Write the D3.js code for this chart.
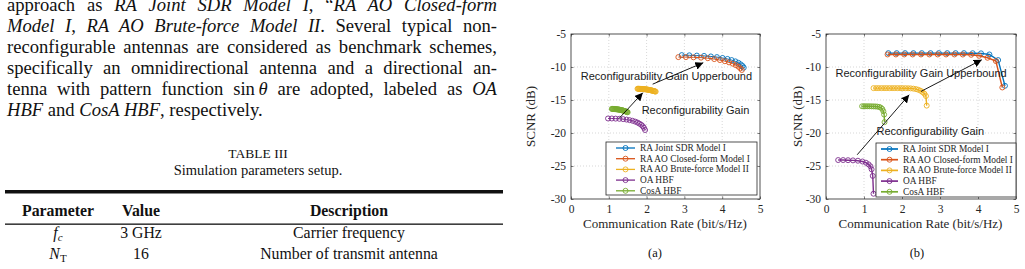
<!DOCTYPE html>
<html>
<head>
<meta charset="utf-8">
<script src="https://cdn.jsdelivr.net/npm/d3@7"></script>
<style>
body { margin: 0; background: #fff; }
svg { display: block; }
</style>
</head>
<body>
<svg id="page" width="1025" height="269"></svg>
<script>
// ---------------- data ----------------
const seriesNames = ["RA Joint SDR Model I", "RA AO Closed-form Model I", "RA AO Brute-force Model II", "OA HBF", "CosA HBF"];
const seriesColors = ["#0072BD", "#D95319", "#EDB120", "#7E2F8E", "#77AC30"];
const xTicks = [0, 1, 2, 3, 4, 5];
const yTicks = [-5, -10, -15, -20, -25, -30];

// panel (a)
const aJointX = [2.93, 3.13, 3.33, 3.52, 3.70, 3.86, 4.01, 4.14, 4.25, 4.35, 4.43, 4.49, 4.54, 4.57];
const aJointY = [-8.2, -8.23, -8.27, -8.32, -8.4, -8.5, -8.63, -8.78, -8.95, -9.15, -9.37, -9.6, -9.85, -10.1];
const aClosedX = [2.84, 3.04, 3.24, 3.44, 3.62, 3.79, 3.94, 4.07, 4.18, 4.28, 4.36, 4.43, 4.48, 4.52];
const aClosedY = [-8.5, -8.5, -8.53, -8.58, -8.67, -8.8, -8.95, -9.12, -9.3, -9.5, -9.72, -9.95, -10.2, -10.45];
const aBruteX = [1.76, 1.775, 1.79, 1.805, 1.82, 1.835, 1.85, 1.865, 1.88, 1.895, 1.91, 1.925, 1.94, 1.955, 1.97, 1.985, 2.00,
                 2.015, 2.03, 2.045, 2.06, 2.075, 2.09, 2.105, 2.12, 2.135, 2.15, 2.165, 2.18, 2.195, 2.21, 2.225, 2.24];
const aBruteY = [-13.30, -13.30, -13.30, -13.31, -13.31, -13.32, -13.32, -13.33, -13.33, -13.34, -13.35, -13.36, -13.36, -13.37, -13.38, -13.39, -13.40,
                 -13.42, -13.43, -13.45, -13.46, -13.48, -13.50, -13.52, -13.54, -13.56, -13.58, -13.60, -13.63, -13.65, -13.68, -13.70, -13.73];
const aOaX = [0.98, 1.08, 1.18, 1.28, 1.38, 1.47, 1.55, 1.63, 1.70, 1.76, 1.81, 1.86, 1.90, 1.93, 1.96];
const aOaY = [-17.8, -17.8, -17.82, -17.85, -17.9, -17.97, -18.05, -18.15, -18.28, -18.42, -18.58, -18.76, -18.98, -19.22, -19.55];
const aCosX = [1.08, 1.095, 1.11, 1.125, 1.14, 1.155, 1.17, 1.185, 1.20, 1.215, 1.23, 1.245, 1.26, 1.275, 1.29,
               1.305, 1.32, 1.335, 1.35, 1.365, 1.38, 1.395, 1.41, 1.425, 1.44, 1.455, 1.47, 1.485, 1.50];
const aCosY = [-16.35, -16.35, -16.36, -16.36, -16.37, -16.37, -16.38, -16.39, -16.40, -16.41, -16.42, -16.43, -16.45, -16.46, -16.48,
               -16.50, -16.52, -16.54, -16.56, -16.58, -16.60, -16.63, -16.66, -16.69, -16.72, -16.75, -16.79, -16.82, -16.86];

// panel (b)
const bJointX = [1.64, 1.86, 2.08, 2.30, 2.52, 2.75, 2.97, 3.19, 3.41, 3.63, 3.86, 4.08, 4.30, 4.53, 4.71];
const bJointY = [-7.9, -7.9, -7.9, -7.9, -7.9, -7.9, -7.9, -7.9, -7.9, -7.9, -7.91, -7.93, -8.1, -8.95, -12.85];
const bClosedX = [1.62, 1.84, 2.06, 2.28, 2.50, 2.72, 2.94, 3.16, 3.38, 3.60, 3.82, 4.03, 4.25, 4.47, 4.64];
const bClosedY = [-8.1, -8.1, -8.1, -8.1, -8.1, -8.1, -8.1, -8.1, -8.1, -8.11, -8.15, -8.3, -8.6, -9.1, -13.1];
const bBruteX = [1.25, 1.32, 1.39, 1.46, 1.53, 1.60, 1.67, 1.74, 1.81, 1.88, 1.95, 2.02, 2.09, 2.16, 2.23, 2.30, 2.37, 2.43, 2.49, 2.54, 2.59, 2.63, 2.65];
const bBruteY = [-13.2, -13.2, -13.2, -13.2, -13.2, -13.2, -13.2, -13.2, -13.2, -13.2, -13.2, -13.21, -13.21, -13.22, -13.24, -13.28, -13.35, -13.45, -13.6, -13.8, -14.05, -14.4, -15.85];
const bOaX = [0.32, 0.45, 0.58, 0.71, 0.84, 0.96, 1.05, 1.12, 1.17, 1.20, 1.23, 1.25];
const bOaY = [-24.1, -24.1, -24.12, -24.15, -24.2, -24.32, -24.5, -24.75, -25.05, -25.5, -26.5, -29.2];
const bCosX = [0.95, 1.00, 1.05, 1.10, 1.15, 1.20, 1.25, 1.30, 1.35, 1.40, 1.44, 1.48, 1.51, 1.53, 1.54];
const bCosY = [-15.95, -15.95, -15.95, -15.95, -15.95, -15.96, -15.97, -15.98, -16.0, -16.05, -16.15, -16.35, -16.7, -17.2, -18.35];

// text of the page
const bodyLines = [
  [["approach as ", 0], ["RA Joint SDR Model I", 1], [", \u201C", 0], ["RA AO Closed-form", 1]],
  [["Model I", 1], [", ", 0], ["RA AO Brute-force Model II", 1], [". Several typical non-", 0]],
  [["reconfigurable antennas are considered as benchmark schemes,", 0]],
  [["specifically an omnidirectional antenna and a directional an-", 0]],
  [["tenna with pattern function sin\u2009", 0], ["\u03B8", 1], [" are adopted, labeled as ", 0], ["OA", 1]],
  [["HBF", 1], [" and ", 0], ["CosA HBF", 1], [", respectively.", 0]]
];
const tableHeader = ["Parameter", "Value", "Description"];
const tableValues = ["3 GHz", "16"];
const tableDescriptions = ["Carrier frequency", "Number of transmit antenna"];

const svg = d3.select("#page");
svg.append("rect").attr("width", 1025).attr("height", 269).attr("fill", "#fff");

const serif = "'Liberation Serif', 'Times New Roman', serif";
const sans = "'Liberation Sans', Arial, sans-serif";

// ---------------- left column text ----------------
const body = svg.append("g").attr("font-family", serif).attr("font-size", 18.6).attr("fill", "#111");
bodyLines.forEach(function(segs, i) {
  const t = body.append("text").attr("x", 7).attr("y", 10.5 + i * 21.1);
  segs.forEach(function(s) {
    t.append("tspan").attr("font-style", s[1] ? "italic" : "normal").text(s[0]);
  });
  if (i < bodyLines.length - 1) {
    const natural = t.node().getComputedTextLength();
    const spaces = (t.text().match(/ /g) || []).length;
    t.style("word-spacing", ((497 - 7 - natural) / spaces) + "px");
  }
});

// table caption
svg.append("text").attr("x", 258).attr("y", 158).attr("text-anchor", "middle")
  .attr("font-family", serif).attr("font-size", 13.5).attr("fill", "#111")
  .text("TABLE III");
svg.append("text").attr("x", 258).attr("y", 175).attr("text-anchor", "middle")
  .attr("font-family", serif).attr("font-size", 14.5).attr("fill", "#111")
  .text("Simulation parameters setup.");

// table
const colCenters = [58, 141, 349];
svg.append("rect").attr("x", 5).attr("y", 190).attr("width", 498).attr("height", 3.5).attr("fill", "#111");
svg.append("rect").attr("x", 5).attr("y", 223.5).attr("width", 498).attr("height", 1.3).attr("fill", "#111");
tableHeader.forEach(function(h, i) {
  svg.append("text").attr("x", colCenters[i]).attr("y", 216).attr("text-anchor", "middle")
    .attr("font-family", serif).attr("font-size", 15.8).attr("font-weight", "bold").attr("fill", "#111")
    .text(h);
});
const rowY = [238, 259];
// parameter symbols
const p1 = svg.append("text").attr("x", 58).attr("y", rowY[0]).attr("text-anchor", "middle")
  .attr("font-family", serif).attr("font-size", 15.8).attr("fill", "#111");
p1.append("tspan").attr("font-style", "italic").text("f");
p1.append("tspan").attr("font-style", "italic").attr("font-size", 11).attr("dy", 3).text("c");
const p2 = svg.append("text").attr("x", 58).attr("y", rowY[1]).attr("text-anchor", "middle")
  .attr("font-family", serif).attr("font-size", 15.8).attr("fill", "#111");
p2.append("tspan").attr("font-style", "italic").text("N");
p2.append("tspan").attr("font-size", 11).attr("dy", 3).text("T");
tableValues.forEach(function(v, i) {
  svg.append("text").attr("x", colCenters[1]).attr("y", rowY[i]).attr("text-anchor", "middle")
    .attr("font-family", serif).attr("font-size", 15.8).attr("fill", "#111").text(v);
  svg.append("text").attr("x", colCenters[2]).attr("y", rowY[i]).attr("text-anchor", "middle")
    .attr("font-family", serif).attr("font-size", 15.8).attr("fill", "#111").text(tableDescriptions[i]);
});

// ---------------- charts ----------------
svg.append("defs").append("marker")
  .attr("id", "head").attr("viewBox", "0 0 10 10").attr("refX", 10).attr("refY", 5)
  .attr("markerWidth", 8).attr("markerHeight", 8).attr("markerUnits", "userSpaceOnUse")
  .attr("orient", "auto")
  .append("path").attr("d", "M0,0L10,5L0,10Z").attr("fill", "#000");

function zip(xs, ys) { return xs.map(function(x, i) { return { x: x, y: ys[i] }; }); }

function drawPanel(p) {
  const x = d3.scaleLinear().domain([0, 5]).range([p.left, p.right]);
  const y = d3.scaleLinear().domain([-30, -5]).range([p.bottom, p.top]);
  const g = svg.append("g");

  // grid
  g.append("g").selectAll("line").data(xTicks.slice(1, -1)).join("line")
    .attr("x1", function(d) { return x(d); }).attr("x2", function(d) { return x(d); })
    .attr("y1", p.top).attr("y2", p.bottom)
    .attr("stroke", "#bdbdbd").attr("stroke-width", 0.6).attr("stroke-dasharray", "1,2");
  g.append("g").selectAll("line").data(yTicks.slice(1, -1)).join("line")
    .attr("y1", function(d) { return y(d); }).attr("y2", function(d) { return y(d); })
    .attr("x1", p.left).attr("x2", p.right)
    .attr("stroke", "#bdbdbd").attr("stroke-width", 0.6).attr("stroke-dasharray", "1,2");

  // axes (ticks inward, box)
  const xAxis = d3.axisBottom(x).tickValues(xTicks).tickSize(-2.5).tickPadding(6).tickFormat(d3.format("d"));
  const yAxis = d3.axisLeft(y).tickValues(yTicks).tickSize(-2.5).tickPadding(5).tickFormat(function(d) { return "-" + Math.abs(d); });
  [g.append("g").attr("transform", "translate(0," + p.bottom + ")").call(xAxis),
   g.append("g").attr("transform", "translate(" + p.left + ",0)").call(yAxis)].forEach(function(ax) {
    ax.select(".domain").remove();
    ax.selectAll("line").attr("stroke", "#262626").attr("stroke-width", 0.6);
    ax.selectAll("text").attr("font-family", serif).attr("font-size", 11.5).attr("fill", "#262626");
  });
  g.append("g").attr("transform", "translate(0," + p.top + ")")
    .call(d3.axisTop(x).tickValues(xTicks).tickSize(-2.5).tickFormat(""))
    .call(function(a) { a.select(".domain").remove(); a.selectAll("line").attr("stroke", "#262626").attr("stroke-width", 0.6); });
  g.append("g").attr("transform", "translate(" + p.right + ",0)")
    .call(d3.axisRight(y).tickValues(yTicks).tickSize(-2.5).tickFormat(""))
    .call(function(a) { a.select(".domain").remove(); a.selectAll("line").attr("stroke", "#262626").attr("stroke-width", 0.6); });
  g.append("rect").attr("x", p.left).attr("y", p.top)
    .attr("width", p.right - p.left).attr("height", p.bottom - p.top)
    .attr("fill", "none").attr("stroke", "#262626").attr("stroke-width", 0.8);

  // series
  const line = d3.line().x(function(d) { return x(d.x); }).y(function(d) { return y(d.y); });
  p.series.forEach(function(s, i) {
    const pts = zip(s[0], s[1]);
    g.append("path").datum(pts).attr("d", line).attr("fill", "none")
      .attr("stroke", seriesColors[i]).attr("stroke-width", p.lineWidth);
    g.append("g").selectAll("circle").data(pts).join("circle")
      .attr("cx", function(d) { return x(d.x); }).attr("cy", function(d) { return y(d.y); })
      .attr("r", 2.5).attr("fill", "none").attr("stroke", seriesColors[i]).attr("stroke-width", 0.9);
  });

  // annotations
  p.arrows.forEach(function(a) {
    g.append("line").attr("x1", x(a[0])).attr("y1", y(a[1])).attr("x2", x(a[2])).attr("y2", y(a[3]))
      .attr("stroke", "#000").attr("stroke-width", 0.9).attr("marker-end", "url(#head)");
  });
  p.labels.forEach(function(l) {
    g.append("text").attr("x", x(l[0])).attr("y", y(l[1]))
      .attr("font-family", sans).attr("font-size", 11).attr("fill", "#1a1a1a").text(l[2]);
  });

  // legend
  const lg = g.append("g").attr("transform", "translate(" + p.legend[0] + "," + p.legend[1] + ")");
  lg.append("rect").attr("width", p.legend[2]).attr("height", p.legend[3])
    .attr("fill", "#fff").attr("stroke", "#262626").attr("stroke-width", 0.8);
  seriesNames.forEach(function(n, i) {
    const ry = 6 + i * 10.7;
    lg.append("line").attr("x1", p.legendLine[0]).attr("x2", p.legendLine[1]).attr("y1", ry).attr("y2", ry)
      .attr("stroke", seriesColors[i]).attr("stroke-width", p.lineWidth + 0.3);
    lg.append("circle").attr("cx", (p.legendLine[0] + p.legendLine[1]) / 2).attr("cy", ry).attr("r", 2.5)
      .attr("fill", "none").attr("stroke", seriesColors[i]).attr("stroke-width", 0.9);
    lg.append("text").attr("x", p.legendLine[1] + 5).attr("y", ry + 3)
      .attr("font-family", serif).attr("font-size", 9.4).attr("fill", "#262626").text(n);
  });

  // axis titles
  g.append("text").attr("x", (p.left + p.right) / 2 - 0.5).attr("y", 228).attr("text-anchor", "middle")
    .attr("font-family", serif).attr("font-size", 13).attr("fill", "#262626")
    .text("Communication Rate (bit/s/Hz)");
  g.append("text").attr("transform", "translate(" + p.ylabelX + "," + ((p.top + p.bottom) / 2) + ") rotate(-90)")
    .attr("text-anchor", "middle").attr("font-family", serif).attr("font-size", 13).attr("fill", "#262626")
    .text("SCNR (dB)");
  g.append("text").attr("x", p.capX).attr("y", 257).attr("text-anchor", "middle")
    .attr("font-family", serif).attr("font-size", 12.5).attr("fill", "#111").text(p.caption);
}

drawPanel({
  left: 571, right: 760, top: 34, bottom: 199,
  lineWidth: 1,
  series: [[aJointX, aJointY], [aClosedX, aClosedY], [aBruteX, aBruteY], [aOaX, aOaY], [aCosX, aCosY]],
  arrows: [[1.27, -17.8, 1.9, -13.9], [2.16, -12.6, 3.5, -9.35]],
  labels: [[0.26, -11.97, "Reconfigurability Gain Upperbound"], [1.87, -17.12, "Reconfigurability Gain"]],
  legend: [606, 142, 151, 53], legendLine: [10, 29],
  ylabelX: 535, capX: 655, caption: "(a)"
});

drawPanel({
  left: 826, right: 1016, top: 34, bottom: 199,
  lineWidth: 1.4,
  series: [[bJointX, bJointY], [bClosedX, bClosedY], [bBruteX, bBruteY], [bOaX, bOaY], [bCosX, bCosY]],
  arrows: [[0.82, -23.3, 2.19, -14.2], [2.5, -13.7, 4.1, -8.9]],
  labels: [[0.25, -11.44, "Reconfigurability Gain Upperbound"], [1.33, -20.23, "Reconfigurability Gain"]],
  legend: [876, 143, 140, 54], legendLine: [5, 22],
  ylabelX: 802, capX: 917, caption: "(b)"
});
</script>
</body>
</html>
